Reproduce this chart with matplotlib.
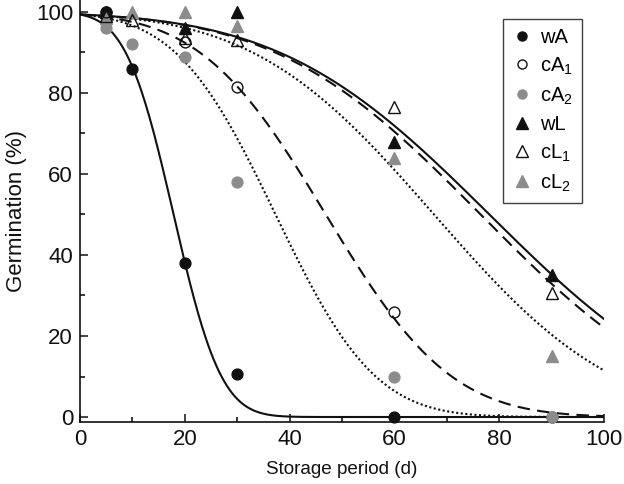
import math
import numpy as np
import matplotlib
matplotlib.use("Agg")
import matplotlib.pyplot as plt
from matplotlib.lines import Line2D

plt.rcParams['font.family'] = ['Liberation Sans', 'DejaVu Sans']
plt.rcParams['mathtext.default'] = 'regular'

# ---- observed data (storage period in days, germination %) ----
series_names = ['wA', 'cA$_1$', 'cA$_2$', 'wL', 'cL$_1$', 'cL$_2$']

wA_days = [5, 10, 20, 30, 60, 90]
wA_germ = [100, 86, 38, 10.5, 0, 0]

cA1_days = [5, 20, 30, 60, 90]
cA1_germ = [100, 92.6, 81.5, 26, 0]

cA2_days = [5, 10, 20, 30, 60, 90]
cA2_germ = [96, 92, 89, 58, 10, 0]

wL_days = [5, 20, 30, 60, 90]
wL_germ = [100, 96, 100, 68, 35]

cL1_days = [5, 10, 20, 30, 60, 90]
cL1_germ = [99, 98, 93.5, 93, 76.5, 30.5]

cL2_days = [5, 10, 20, 30, 60, 90]
cL2_germ = [98.5, 100, 100, 96.5, 64, 15]

# ---- fitted viability-equation (probit) curves: v = Ki - slope * p ----
curve_names = ['wA', 'cA1', 'cA2', 'wL', 'cL1', 'cL2']
curve_Ki = [2.5, 2.5, 2.5, 2.5, 2.5, 2.5]
curve_slope = [0.140, 0.0533, 0.067, 0.032, 0.0327, 0.037]

x_tick_vals = [0, 20, 40, 60, 80, 100]
y_tick_vals = [0, 20, 40, 60, 80, 100]

BLACK = '#111111'
GREY = '#8c8c8c'

fig = plt.figure(figsize=(6.24, 4.84), dpi=100)
ax = fig.add_axes([80 / 624, (484 - 421.7) / 484, 524 / 624, 421.7 / 484])

erf = np.vectorize(math.erf)
p = np.linspace(0, 100, 401)
line_styles = ['-', (0, (6, 3.5)), (0, (1, 1.2)), '-', (0, (6, 3.5)), (0, (1, 1.2))]
for Ki, sl, ls in zip(curve_Ki, curve_slope, line_styles):
    v = Ki - sl * p
    g = 100 * 0.5 * (1 + erf(v / math.sqrt(2)))
    ax.plot(p, g, color=BLACK, linestyle=ls, linewidth=1.5, zorder=2)

ms_c = 7.8
ms_t = 9.2
ax.plot(wA_days, wA_germ, 'o', color=BLACK, ms=ms_c, mec=BLACK, zorder=3, clip_on=False)
ax.plot(cA2_days, cA2_germ, 'o', color=GREY, ms=ms_c, mec=GREY, zorder=3, clip_on=False)
ax.plot(cA1_days[:-1], cA1_germ[:-1], 'o', mfc='none', mec=BLACK, mew=1.0, ms=ms_c, zorder=4)
ax.plot(wL_days, wL_germ, '^', color=BLACK, ms=ms_t, mec=BLACK, zorder=3, clip_on=False)
ax.plot(cL2_days, cL2_germ, '^', color=GREY, ms=ms_t, mec=GREY, zorder=3, clip_on=False)
ax.plot(cL1_days, cL1_germ, '^', mfc='none', mec=BLACK, mew=1.0, ms=ms_t, zorder=4, clip_on=False)

ax.set_xlim(0, 100)
ax.set_ylim(-1.16, 102.96)
ax.set_xticks(x_tick_vals)
ax.set_yticks(y_tick_vals)
ax.set_xticks(np.arange(10, 100, 20), minor=True)
ax.set_yticks(np.arange(10, 100, 20), minor=True)
ax.tick_params(which='major', direction='in', length=6, width=1.1, labelsize=16, colors=BLACK, pad=5)
ax.tick_params(which='minor', direction='in', length=3.5, width=1.1)
for s in ['top', 'right']:
    ax.spines[s].set_visible(False)
for s in ['left', 'bottom']:
    ax.spines[s].set_linewidth(1.2)
    ax.spines[s].set_color(BLACK)

ax.set_xlabel('Storage period (d)', fontsize=13.6, color=BLACK, labelpad=8)
ax.set_ylabel('Germination (%)', fontsize=16, color=BLACK, labelpad=6)

handles = [
    Line2D([], [], ls='none', marker='o', color=BLACK, ms=6.5),
    Line2D([], [], ls='none', marker='o', mfc='none', mec=BLACK, ms=6.5),
    Line2D([], [], ls='none', marker='o', color=GREY, ms=6.5),
    Line2D([], [], ls='none', marker='^', color=BLACK, ms=8),
    Line2D([], [], ls='none', marker='^', mfc='none', mec=BLACK, ms=8),
    Line2D([], [], ls='none', marker='^', color=GREY, ms=8),
]
leg = ax.legend(handles, series_names, loc='upper left',
                bbox_to_anchor=(503 / 624, 1 - 19 / 484), bbox_transform=fig.transFigure,
                borderaxespad=0,
                fontsize=14.5, frameon=True, fancybox=False, edgecolor=BLACK,
                handlelength=1.0, handletextpad=0.4, labelspacing=0.42, borderpad=0.45)
leg.get_frame().set_linewidth(1.0)

fig.savefig('out.png', dpi=100)
